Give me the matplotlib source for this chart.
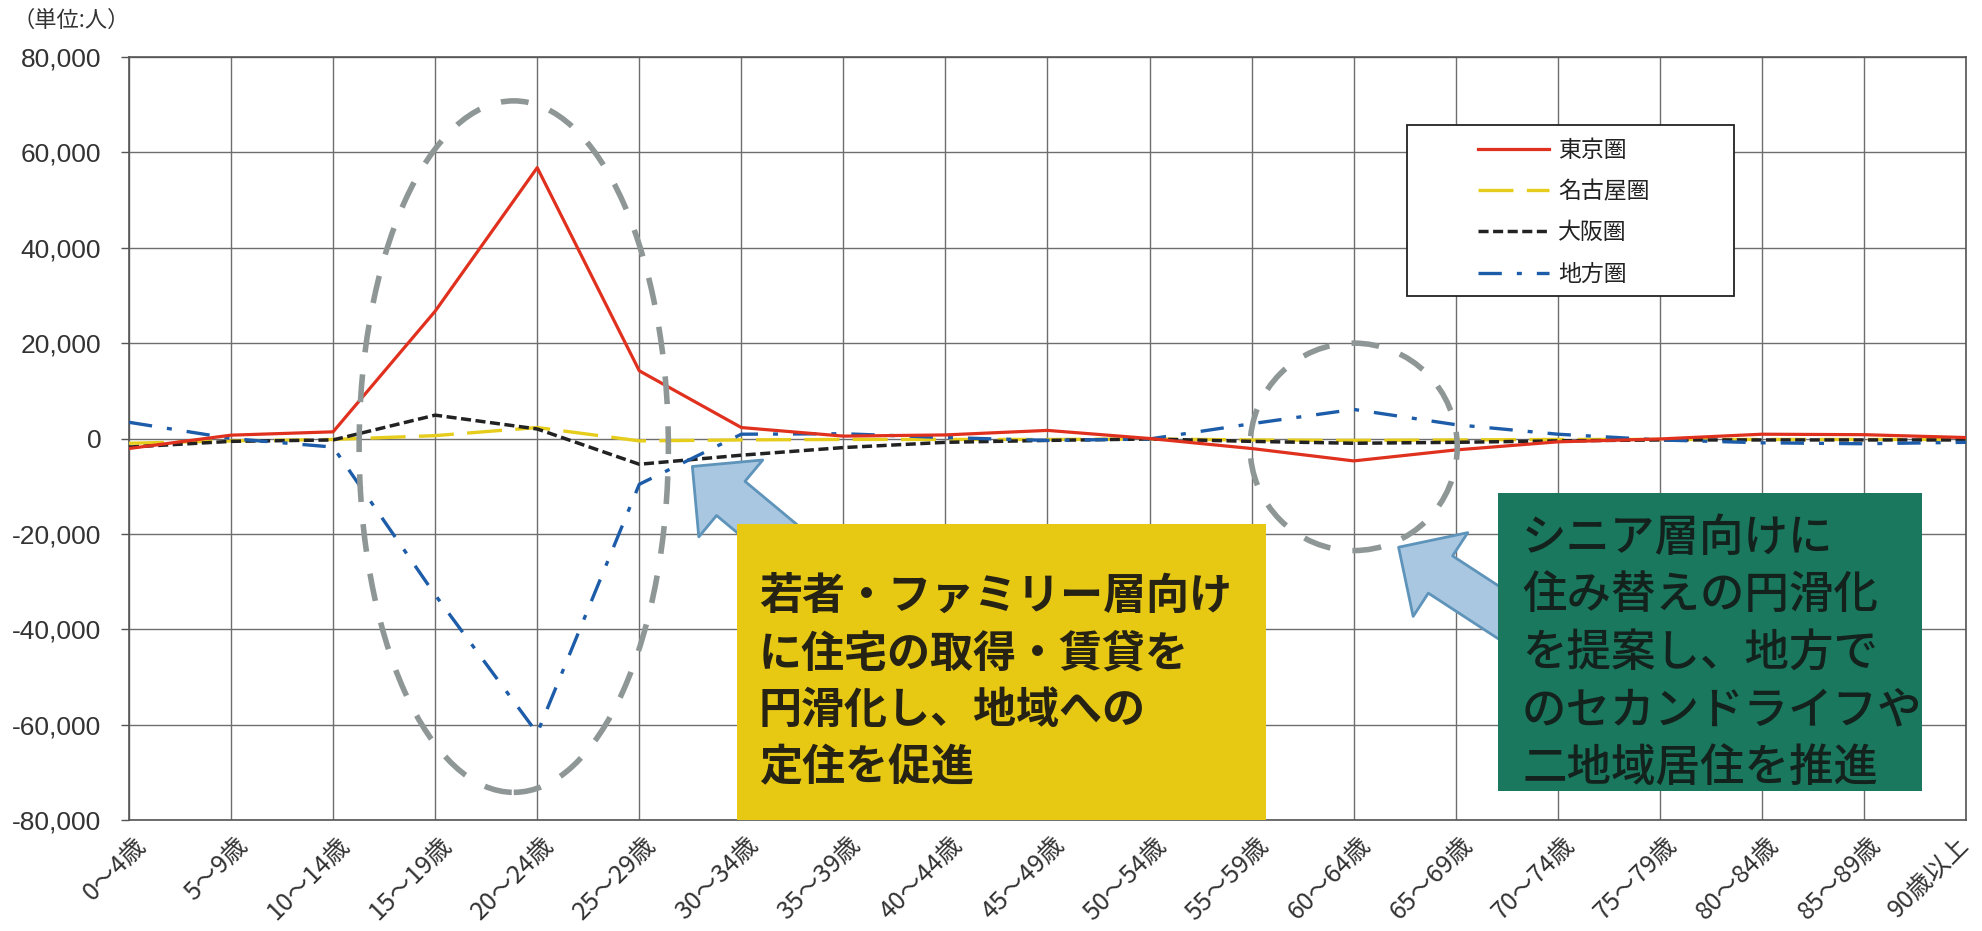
import matplotlib
matplotlib.use('Agg')
import matplotlib.pyplot as plt
import matplotlib.transforms as mtransforms
from matplotlib.patches import Ellipse, Rectangle, FancyArrowPatch
from matplotlib.ticker import FuncFormatter

JP = ['Noto Sans CJK JP', 'DejaVu Sans']
plt.rcParams['font.family'] = JP

# ---------------- data ----------------
categories = ["0～4歳", "5～9歳", "10～14歳", "15～19歳", "20～24歳", "25～29歳",
              "30～34歳", "35～39歳", "40～44歳", "45～49歳", "50～54歳", "55～59歳",
              "60～64歳", "65～69歳", "70～74歳", "75～79歳", "80～84歳", "85～89歳",
              "90歳以上"]
series_names = ["東京圏", "名古屋圏", "大阪圏", "地方圏"]
tokyo = [-2100, 700, 1400, 26700, 56800, 14200, 2300, 500, 750, 1700, 0, -2100,
         -4700, -2400, -700, -100, 900, 800, 200]
nagoya = [-1000, -500, -200, 600, 2300, -500, -300, -200, -200, -200, -100, -300,
          -400, -300, -200, -200, -200, -200, -200]
osaka = [-1800, -600, -300, 4900, 2000, -5400, -3500, -1900, -800, -400, -100, -600,
         -1000, -800, -500, -300, -300, -300, -300]
chiho = [3400, 0, -1800, -32800, -61800, -9600, 900, 1000, 200, -400, -100, 3100,
         6100, 2900, 900, -300, -900, -1100, -800]
y_ticks = [-80000, -60000, -40000, -20000, 0, 20000, 40000, 60000, 80000]
unit_label = "（単位:人）"
yellow_lines = ["若者・ファミリー層向け", "に住宅の取得・賃貸を", "円滑化し、地域への", "定住を促進"]
green_lines = ["シニア層向けに", "住み替えの円滑化", "を提案し、地方で", "のセカンドライフや", "二地域居住を推進"]

# ---------------- figure ----------------
W, H = 1983, 931
fig = plt.figure(figsize=(W / 100, H / 100), dpi=100)
ax = fig.add_axes([129 / W, 1 - 820 / H, (1966 - 129) / W, (820 - 57) / H])

x = list(range(len(categories)))
ax.plot(x, nagoya, color='#e6cd1c', lw=2.4, ls=(0, (10.5, 4)), label=series_names[1], zorder=4)
ax.plot(x, osaka, color='#222222', lw=2.5, ls=(0, (2.9, 1.3)), label=series_names[2], zorder=4)
ax.plot(x, chiho, color='#1c5ca8', lw=2.4, ls=(0, (7, 4.5, 1.5, 4.5)), label=series_names[3], zorder=4)
ax.plot(x, tokyo, color='#e0301e', lw=2.3, label=series_names[0], zorder=5)

ax.set_xlim(0, len(categories) - 1)
ax.set_ylim(y_ticks[0], y_ticks[-1])
ax.set_xticks(x)
ax.set_yticks(y_ticks)
ax.yaxis.set_major_formatter(FuncFormatter(lambda v, p: f"{int(v):,}"))
ax.tick_params(axis='y', length=6, width=1, color='#555555', pad=14, labelsize=19,
               labelcolor='#333333')
ax.tick_params(axis='x', length=0, pad=16)
for lbl in ax.get_yticklabels():
    lbl.set_family(['Liberation Sans', 'DejaVu Sans'])
ax.set_xticklabels(categories, rotation=45, ha='right', va='top',
                   rotation_mode='anchor', fontsize=18, color='#333333')
xlabels = ax.get_xticklabels()
for i, lbl in enumerate(xlabels):
    dx = 4 if i < len(xlabels) - 1 else -10
    shift = mtransforms.ScaledTranslation(dx / 100, 10 / 100, fig.dpi_scale_trans)
    lbl.set_transform(lbl.get_transform() + shift)

ax.grid(True, color='#6e6e6e', lw=1.0)
for s in ax.spines.values():
    s.set_color('#555555')
    s.set_linewidth(1.2)

# dashed ellipses
ax.add_patch(Ellipse((3.77, -1700), 3.03, 145000, fill=False, ec='#8f9696', lw=4.0,
                     ls=(0, (5, 4)), zorder=6, clip_on=False))
ax.add_patch(Ellipse((12.0, -1750), 2.03, 43500, fill=False, ec='#8f9696', lw=4.0,
                     ls=(0, (5, 4)), zorder=6, clip_on=False))

# arrows
arrow_style = "Simple, head_length=36, head_width=72, tail_width=32"
ax.add_patch(FancyArrowPatch((6.87, -29900), (5.52, -5860), arrowstyle=arrow_style,
                             mutation_scale=1, fc='#a9c7e0', ec='#5e93ba', lw=2,
                             zorder=7, shrinkA=0, shrinkB=0))
ax.add_patch(FancyArrowPatch((13.73, -40800), (12.44, -22800), arrowstyle=arrow_style,
                             mutation_scale=1, fc='#a9c7e0', ec='#5e93ba', lw=2,
                             zorder=7, shrinkA=0, shrinkB=0))

# boxes
ax.add_patch(Rectangle((5.96, -80000), 11.14 - 5.96, 62000, fc='#e7c914', ec='none',
                       zorder=8, clip_on=False))
ax.add_patch(Rectangle((13.41, -74000), 17.57 - 13.41, 62500, fc='#19785e', ec='none',
                       zorder=8, clip_on=False))
for k, line in enumerate(yellow_lines):
    ax.annotate(line, xy=(6.17, -33050), xytext=(0, -k * 57 * 0.72),
                textcoords='offset points', fontsize=31, fontweight='bold',
                color='#262314', va='center', ha='left', zorder=9)
for k, line in enumerate(green_lines):
    ax.annotate(line, xy=(13.65, -20900), xytext=(0, -k * 57.5 * 0.72),
                textcoords='offset points', fontsize=32, fontweight='medium',
                color='#14221d', va='center', ha='left', zorder=9)

# legend
ax.add_patch(Rectangle((12.52, 29920), 15.73 - 12.52, 65690 - 29920, fc='white',
                       ec='#222222', lw=1.3, zorder=9))
handles, labels = ax.get_legend_handles_labels()
order = [labels.index(n) for n in series_names]
leg = ax.legend([handles[i] for i in order], [labels[i] for i in order],
                loc='center left', bbox_to_anchor=(13.22, 47490),
                bbox_transform=ax.transData, frameon=False, fontsize=16.5,
                handlelength=3.1, handletextpad=0.4, labelspacing=0.8,
                borderpad=0, borderaxespad=0)
leg.set_zorder(10)
for t in leg.get_texts():
    t.set_color('#222222')

fig.text(12 / W, 1 - 20 / H, unit_label, fontsize=16, va='center', ha='left', color='#333333')

fig.savefig('out.png', dpi=100)
